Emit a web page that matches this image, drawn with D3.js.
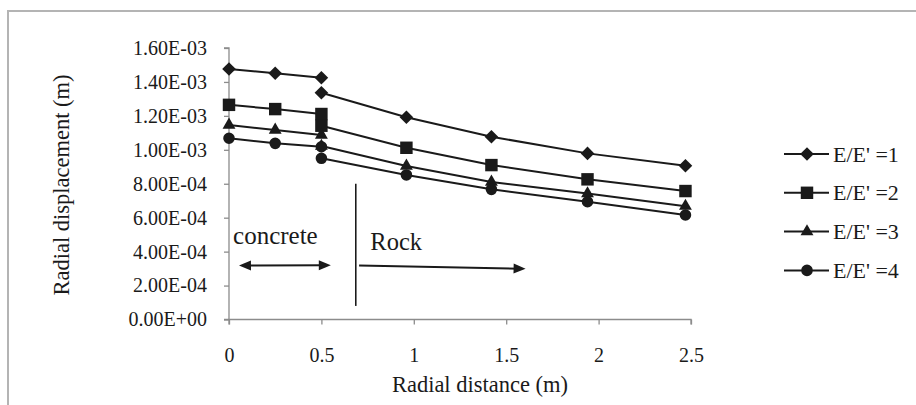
<!DOCTYPE html>
<html>
<head>
<meta charset="utf-8">
<script src="https://cdn.jsdelivr.net/npm/d3@7"></script>
<style>
  html, body { margin: 0; padding: 0; background: #fff; }
  svg { display: block; }
  text { font-family: "Liberation Serif", "Times New Roman", serif; fill: #1a1a1a; }
</style>
</head>
<body>
<svg id="chart" width="916" height="405"></svg>
<script>
// ---- data ----
const distances = [0, 0.25, 0.5, 0.5, 0.96, 1.42, 1.94, 2.47];
const seriesNames = ["E/E' =1", "E/E' =2", "E/E' =3", "E/E' =4"];
const ratio1 = [1.476e-3, 1.451e-3, 1.425e-3, 1.336e-3, 1.192e-3, 1.077e-3, 0.979e-3, 0.906e-3];
const ratio2 = [1.265e-3, 1.240e-3, 1.211e-3, 1.142e-3, 1.012e-3, 0.910e-3, 0.826e-3, 0.757e-3];
const ratio3 = [1.146e-3, 1.117e-3, 1.087e-3, 1.022e-3, 0.905e-3, 0.810e-3, 0.742e-3, 0.668e-3];
const ratio4 = [1.068e-3, 1.038e-3, 1.018e-3, 0.950e-3, 0.852e-3, 0.767e-3, 0.694e-3, 0.616e-3];
const markerShapes = ["diamond", "square", "triangle", "circle"];
const yTickValues = [0, 2e-4, 4e-4, 6e-4, 8e-4, 1.0e-3, 1.2e-3, 1.4e-3, 1.6e-3];
const yTickLabels = ["0.00E+00", "2.00E-04", "4.00E-04", "6.00E-04", "8.00E-04", "1.00E-03", "1.20E-03", "1.40E-03", "1.60E-03"];
const xTickValues = [0, 0.5, 1, 1.5, 2, 2.5];
const xTickLabels = ["0", "0.5", "1", "1.5", "2", "2.5"];
const xTitle = "Radial distance (m)";
const yTitle = "Radial displacement (m)";
// annotations in data units
const boundaryX = 0.686, boundaryY = [0.80e-3, 0.08e-3];
const concreteArrow = { x1: 0.054, y1: 0.318e-3, x2: 0.551, y2: 0.320e-3 };
const rockArrow = { x1: 0.704, y1: 0.318e-3, x2: 1.605, y2: 0.299e-3 };
const concreteLabel = { text: "concrete", x: 0.022, y: 0.446e-3 };
const rockLabel = { text: "Rock", x: 0.765, y: 0.410e-3 };

const seriesValues = [ratio1, ratio2, ratio3, ratio4];

// ---- layout ----
const svg = d3.select("#chart");
const ink = "#1a1a1a";

// outer frame
svg.append("rect").attr("x", 8).attr("y", 11).attr("width", 916).attr("height", 420)
  .attr("fill", "none").attr("stroke", "#b4b4b4").attr("stroke-width", 2);

const x = d3.scaleLinear().domain([0, 2.5]).range([229, 691]);
const y = d3.scaleLinear().domain([0, 1.6e-3]).range([319.5, 48]);

// axes
const axisColor = "#8c8c8c";
const xAxis = svg.append("g").attr("transform", `translate(0,${y(0)})`)
  .call(d3.axisBottom(x).tickValues(xTickValues).tickSize(5).tickPadding(23)
    .tickFormat((d, i) => xTickLabels[i]));
const yAxis = svg.append("g").attr("transform", `translate(${x(0)},0)`)
  .call(d3.axisLeft(y).tickValues(yTickValues).tickSize(5).tickPadding(17)
    .tickFormat((d, i) => yTickLabels[i]));
[xAxis, yAxis].forEach(g => {
  g.select(".domain").attr("stroke", axisColor).attr("stroke-width", 1.3);
  g.selectAll(".tick line").attr("stroke", axisColor).attr("stroke-width", 1.3);
  g.selectAll(".tick text").attr("fill", ink).style("font-family", '"Liberation Serif", serif').style("font-size", "20px");
});
yAxis.select(".domain").attr("d", `M-5,${y(1.6e-3)}H0V${y(0)}H-5`);
xAxis.select(".domain").attr("d", `M${x(0)},5V0H${x(2.5)}V5`);

// titles
svg.append("text").attr("x", 480).attr("y", 392).attr("text-anchor", "middle")
  .style("font-size", "22.5px").text(xTitle);
svg.append("text").attr("transform", "translate(69,185) rotate(-90)").attr("text-anchor", "middle")
  .style("font-size", "22.5px").text(yTitle);

// series
const diamondPath = () => { const r = 6.8; return `M0,${-r}L${r},0L0,${r}L${-r},0Z`; };
const symbolMap = {
  diamond: diamondPath,
  square: d3.symbol().type(d3.symbolSquare).size(155),
  triangle: d3.symbol().type(d3.symbolTriangle).size(72),
  circle: d3.symbol().type(d3.symbolCircle).size(105)
};
const line = d3.line().x(d => x(d[0])).y(d => y(d[1]));

seriesValues.forEach((vals, si) => {
  const pts = distances.map((d, i) => [d, vals[i]]);
  const concrete = pts.slice(0, 3);
  const rock = pts.slice(3);
  const g = svg.append("g");
  [concrete, rock].forEach(seg => {
    g.append("path").attr("d", line(seg)).attr("fill", "none")
      .attr("stroke", ink).attr("stroke-width", 2);
  });
  g.selectAll("path.m").data(pts).enter().append("path").attr("class", "m")
    .attr("transform", d => `translate(${x(d[0])},${y(d[1])})`)
    .attr("d", symbolMap[markerShapes[si]]())
    .attr("fill", ink);
});

// annotations
svg.append("line").attr("x1", x(boundaryX)).attr("x2", x(boundaryX))
  .attr("y1", y(boundaryY[0])).attr("y2", y(boundaryY[1]))
  .attr("stroke", ink).attr("stroke-width", 1.6);

function arrowHead(xTip, yTip, angle) {
  const L = 12, W = 5;
  const p = [[0, 0], [-L, -W], [-L, W]].map(([a, b]) => [
    xTip + a * Math.cos(angle) - b * Math.sin(angle),
    yTip + a * Math.sin(angle) + b * Math.cos(angle)
  ]);
  svg.append("path").attr("d", "M" + p.join("L") + "Z").attr("fill", ink);
}
function arrow(a, both) {
  const x1 = x(a.x1), y1 = y(a.y1), x2 = x(a.x2), y2 = y(a.y2);
  const ang = Math.atan2(y2 - y1, x2 - x1);
  svg.append("line").attr("x1", x1 + (both ? 6 : 0)).attr("y1", y1).attr("x2", x2 - 6).attr("y2", y2)
    .attr("stroke", ink).attr("stroke-width", 2);
  arrowHead(x2, y2, ang);
  if (both) arrowHead(x1, y1, ang + Math.PI);
}
arrow(concreteArrow, true);
arrow(rockArrow, false);

svg.append("text").attr("x", x(concreteLabel.x)).attr("y", y(concreteLabel.y))
  .style("font-size", "25px").text(concreteLabel.text);
svg.append("text").attr("x", x(rockLabel.x)).attr("y", y(rockLabel.y))
  .style("font-size", "24.5px").text(rockLabel.text);

// legend
const legend = svg.append("g").attr("transform", "translate(784,154)");
seriesNames.forEach((name, i) => {
  const row = legend.append("g").attr("transform", `translate(0,${i * 38.8})`);
  row.append("line").attr("x1", 0).attr("x2", 45).attr("y1", 0).attr("y2", 0)
    .attr("stroke", ink).attr("stroke-width", 2);
  row.append("path").attr("transform", "translate(23,0)")
    .attr("d", symbolMap[markerShapes[i]]()).attr("fill", ink);
  row.append("text").attr("x", 49).attr("y", 7.5).style("font-size", "22px").text(name);
});
</script>
</body>
</html>
